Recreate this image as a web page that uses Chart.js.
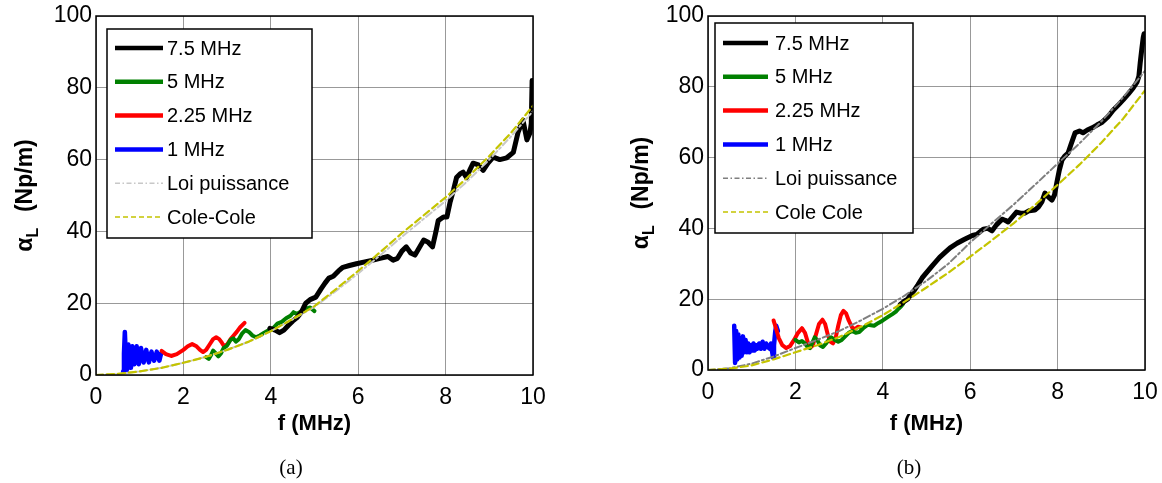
<!DOCTYPE html>
<html>
<head>
<meta charset="utf-8">
<script src="https://cdn.jsdelivr.net/npm/chart.js@4.4.1/dist/chart.umd.min.js"></script>
<style>
    html, body { margin: 0; padding: 0; background: #fff; }
    body { width: 1162px; height: 483px; position: relative; overflow: hidden; }
    .panel { position: absolute; top: 0; height: 483px; }
    #pa { left: 0; width: 560px; }
    #pb { left: 580px; width: 582px; }
</style>
</head>
<body>
<div class="panel" id="pa"><canvas id="chartA"></canvas></div>
<div class="panel" id="pb"><canvas id="chartB"></canvas></div>
<script>
// ---- data: [f (MHz), alpha_L (Np/m)] ----

// panel (a)
const blackA = [[3.98,13],[4.1,12.5],[4.2,11.8],[4.3,12.5],[4.4,13.8],[4.5,15],[4.6,16],[4.7,17.5],[4.8,20],[4.9,21],[5.03,21.7],[5.15,24],[5.24,25.6],[5.33,27],[5.43,27.5],[5.55,29],[5.65,30],[5.8,30.5],[5.96,31],[6.15,31.5],[6.34,32],[6.5,32.5],[6.68,33],[6.8,32],[6.9,32.5],[7.0,34.5],[7.1,35.7],[7.2,34],[7.3,33.4],[7.4,35.5],[7.5,37.6],[7.6,37],[7.7,35.7],[7.78,40],[7.83,43],[7.95,44],[8.03,44],[8.1,48],[8.18,51.5],[8.25,55],[8.33,56],[8.4,56.5],[8.48,55],[8.55,57],[8.63,59],[8.75,58.5],[8.86,57],[8.97,59],[9.09,60.7],[9.24,60],[9.4,60.5],[9.55,62],[9.66,67.7],[9.72,69.5],[9.77,71],[9.82,68],[9.86,65.5],[9.93,67.4],[9.96,70],[9.98,82],[9.995,74]];
const greenA = [[2.52,5],[2.58,4.5],[2.63,5.5],[2.68,6.8],[2.74,6],[2.8,5.2],[2.86,6],[2.92,7.5],[3.0,8.2],[3.08,9.8],[3.14,10.2],[3.2,9.3],[3.27,10],[3.34,11.5],[3.42,12.5],[3.5,12],[3.58,11],[3.66,10.5],[3.75,11],[3.85,11.8],[3.95,12.5],[4.05,13],[4.15,14.3],[4.25,14.8],[4.35,15.8],[4.45,16.5],[4.52,17.5],[4.6,17],[4.7,17.8],[4.8,18.5],[4.9,18.8],[5.0,17.8]];
const redA = [[1.5,6.7],[1.6,5.8],[1.72,5.3],[1.85,5.8],[2.0,7],[2.1,8],[2.2,8.6],[2.3,8],[2.38,7],[2.45,6.4],[2.52,7],[2.6,8.5],[2.68,10],[2.75,10.5],[2.82,10],[2.88,9],[2.93,8],[3.0,8.5],[3.08,10],[3.15,11],[3.22,12],[3.3,13.3],[3.4,14.5]];
const blueA = [[0.62,1],[0.64,6],[0.66,12],[0.68,6],[0.70,1],[0.72,5],[0.74,8.5],[0.76,5],[0.78,2],[0.80,5],[0.83,8],[0.855,5],[0.88,3],[0.905,5.5],[0.93,8],[0.955,5.5],[0.98,3],[1.005,5],[1.03,7.5],[1.06,5.5],[1.09,3.5],[1.12,5],[1.15,7],[1.18,5],[1.21,3.5],[1.24,5],[1.27,6.5],[1.30,5],[1.33,4],[1.36,5],[1.39,6.5],[1.42,5.5],[1.45,4],[1.47,5],[1.49,6]];

// panel (b)
const blackB = [[4.4,18.5],[4.5,19.5],[4.57,20],[4.65,21.5],[4.72,22.5],[4.8,24],[4.9,26],[5.0,27.5],[5.15,29.7],[5.3,31.8],[5.45,33.5],[5.54,34.5],[5.7,35.8],[5.85,36.8],[5.93,37.3],[6.05,38],[6.15,38.3],[6.3,39.8],[6.4,40],[6.5,39.3],[6.6,41],[6.73,42.6],[6.8,42.3],[6.87,41.8],[6.95,43],[7.06,44.6],[7.15,44.3],[7.25,44.3],[7.35,45],[7.48,45.2],[7.56,46],[7.64,47.5],[7.71,50],[7.78,49],[7.87,48],[7.93,49.5],[7.98,52.8],[8.04,56.5],[8.1,59.3],[8.17,60.5],[8.24,61.3],[8.3,63.5],[8.4,67],[8.5,67.5],[8.58,67],[8.68,67.8],[8.79,68.4],[8.9,69.2],[9.02,70],[9.15,71.5],[9.27,73.4],[9.4,75],[9.5,76.3],[9.62,78],[9.73,79.7],[9.82,81.4],[9.86,83],[9.89,86.7],[9.93,91],[9.96,94],[9.98,95]];
const greenB = [[2.0,8.5],[2.08,7.8],[2.15,8.2],[2.21,7.6],[2.28,6.5],[2.33,6.2],[2.38,7.5],[2.44,9.2],[2.5,8.5],[2.56,7],[2.63,6.5],[2.7,7.5],[2.76,8.5],[2.82,9.2],[2.9,8.5],[2.98,8],[3.06,8.5],[3.14,9.5],[3.22,10.5],[3.3,11],[3.38,10.5],[3.46,10.7],[3.55,11.8],[3.66,12.8],[3.8,12.5],[3.9,13.3],[4.0,14],[4.12,15],[4.22,15.8],[4.3,16.5],[4.36,17.3],[4.42,18],[4.47,18.8]];
const redB = [[1.5,14],[1.55,12],[1.62,9],[1.7,7],[1.79,6.2],[1.88,6.8],[1.97,8.5],[2.06,10.5],[2.15,11.8],[2.22,10.5],[2.28,8],[2.34,6.3],[2.4,7],[2.47,10],[2.54,13],[2.62,14.2],[2.68,13],[2.74,10],[2.8,8],[2.86,7.5],[2.92,9],[2.98,12.5],[3.04,15.5],[3.1,16.7],[3.16,16],[3.22,14],[3.3,12],[3.36,11.5],[3.43,12.2],[3.5,12]];
const blueB = [[0.6,12.5],[0.62,2],[0.645,11],[0.67,3],[0.695,10],[0.72,3.5],[0.745,9],[0.77,4],[0.8,9.5],[0.83,5],[0.86,8.5],[0.89,5],[0.92,7.5],[0.95,5],[0.98,7],[1.01,5.5],[1.04,7.5],[1.07,5.5],[1.1,7],[1.13,6],[1.17,7.5],[1.21,6],[1.25,8],[1.29,6],[1.33,7.5],[1.37,6.5],[1.41,6],[1.44,7.5],[1.47,5],[1.49,3.5],[1.51,7],[1.54,11],[1.56,12.5],[1.6,11]];

// fitted models, sampled every 0.5 MHz
const fitFreq = [0,0.5,1,1.5,2,2.5,3,3.5,4,4.5,5,5.5,6,6.5,7,7.5,8,8.5,9,9.5,10];
const loiA  = [0,0.3,1.0,2.0,3.4,5.0,7.0,9.3,12.2,15.5,19,23.5,28.3,33.3,38.5,43.5,48.5,54,60,66.5,73.5];
const coleA = [0,0.3,1.0,2.0,3.4,5.0,7.0,9.3,12.2,15.6,19.2,24,29,34.2,39.5,44.5,49.5,55,61,67.5,75];
const loiB  = [0,0.5,1.8,3.8,6.2,8.5,11,14,17.3,21,25.2,30,36,41.5,46.8,52.5,58.3,64,70.2,77,84.5];
const coleB = [0,0.4,1.3,3.0,5.0,7.0,9.3,12.2,15.5,19.3,23.3,27.5,32,36.7,41.5,46.8,52.3,58,64.2,71,79];

const xTicks = [0, 2, 4, 6, 8, 10];
const yTicks = [0, 20, 40, 60, 80, 100];

const SANS = '"Liberation Sans", Arial, sans-serif';
const SERIF = '"Liberation Serif", "Times New Roman", serif';

const toPts = arr => arr.map(p => ({ x: p[0], y: p[1] }));
const fitPts = vals => fitFreq.map((f, i) => ({ x: f, y: vals[i] }));

function buildDatasets(black, green, red, blue, loi, cole, loiColor, coleLabel) {
    return [
        { label: '7.5 MHz', data: toPts(black), borderColor: '#000000', borderWidth: 5, order: 2 },
        { label: '5 MHz', data: toPts(green), borderColor: '#008000', borderWidth: 4, order: 3 },
        { label: '2.25 MHz', data: toPts(red), borderColor: '#ff0000', borderWidth: 4, order: 4 },
        { label: '1 MHz', data: toPts(blue), borderColor: '#0000ff', borderWidth: 4.5, order: 5 },
        { label: 'Loi puissance', data: fitPts(loi), borderColor: loiColor, borderWidth: 2, borderDash: [7, 3, 2, 3], order: 1 },
        { label: coleLabel, data: fitPts(cole), borderColor: '#c4c400', borderWidth: 2.2, borderDash: [7, 4], order: 0 }
    ];
}

// frame, legend box, axis titles and caption (MATLAB look)
const decorPlugin = {
    id: 'decor',
    afterDraw(chart, args, o) {
        const ctx = chart.ctx;
        const a = chart.chartArea;
        ctx.save();

        // axes box
        ctx.strokeStyle = '#000';
        ctx.lineWidth = 1.5;
        ctx.setLineDash([]);
        ctx.strokeRect(a.left, a.top, a.right - a.left, a.bottom - a.top);

        // legend
        const L = o.legend;
        ctx.fillStyle = '#fff';
        ctx.fillRect(L.x, L.y, L.w, L.h);
        ctx.strokeRect(L.x, L.y, L.w, L.h);
        ctx.font = '20px ' + SANS;
        ctx.textAlign = 'left';
        ctx.textBaseline = 'middle';
        chart.data.datasets.forEach((ds, i) => {
            const yy = L.row0 + i * L.step;
            ctx.beginPath();
            ctx.strokeStyle = ds.borderColor;
            if (!ds.borderDash) {
                ctx.lineWidth = 4.5;
                ctx.setLineDash([]);
            } else {
                ctx.lineWidth = 1.6;
                ctx.setLineDash(ds.borderDash.length === 2 ? [5, 3] : [5, 2.5, 1.5, 2.5]);
            }
            ctx.moveTo(L.lx0, yy);
            ctx.lineTo(L.lx1, yy);
            ctx.stroke();
            ctx.setLineDash([]);
            ctx.fillStyle = '#000';
            ctx.fillText(ds.label, L.tx, yy + 1);
        });

        // x title
        ctx.fillStyle = '#000';
        ctx.font = 'bold 22px ' + SANS;
        ctx.textAlign = 'center';
        ctx.textBaseline = 'middle';
        ctx.fillText('f (MHz)', (a.left + a.right) / 2, o.xTitleY);

        // y title, rotated, with subscript L
        ctx.translate(o.yTitleX, (a.top + a.bottom) / 2);
        ctx.rotate(-Math.PI / 2);
        ctx.textBaseline = 'alphabetic';
        ctx.textAlign = 'left';
        const mainFont = 'bold 23px ' + SANS;
        const subFont = 'bold 16px ' + SANS;
        ctx.font = mainFont;
        const wA = ctx.measureText('\u03b1').width;
        const wR = ctx.measureText('  (Np/m)').width;
        ctx.font = subFont;
        const wL = ctx.measureText('L').width;
        let u = -(wA + wL + wR + 3) / 2;
        ctx.font = mainFont;
        ctx.fillText('\u03b1', u, 0);
        u += wA;
        ctx.font = subFont;
        ctx.fillText('L', u, 6);
        u += wL + 3;
        ctx.font = mainFont;
        ctx.fillText('  (Np/m)', u, 0);
        ctx.setTransform(1, 0, 0, 1, 0, 0);

        // caption
        ctx.font = '21px ' + SERIF;
        ctx.textAlign = 'center';
        ctx.textBaseline = 'middle';
        ctx.fillText(o.caption, o.capX, o.capY);

        ctx.restore();
    }
};

function makeChart(id, datasets, box, decor) {
    return new Chart(document.getElementById(id), {
        type: 'line',
        data: { datasets: datasets },
        options: {
            responsive: true,
            maintainAspectRatio: false,
            animation: false,
            devicePixelRatio: 1,
            layout: { padding: { top: box.top, right: box.right, left: 0, bottom: 0 } },
            elements: {
                point: { radius: 0, hoverRadius: 0 },
                line: { tension: 0, fill: false, borderCapStyle: 'round', borderJoinStyle: 'round' }
            },
            scales: {
                x: {
                    type: 'linear',
                    min: 0,
                    max: 10,
                    afterBuildTicks: s => { s.ticks = xTicks.map(v => ({ value: v })); },
                    afterFit: s => { s.height = box.xh; s.paddingLeft = 0; s.paddingRight = 0; },
                    ticks: { color: '#000', padding: 9, maxRotation: 0, font: { family: SANS, size: 23 } },
                    grid: { color: 'rgba(0,0,0,0.4)', lineWidth: 1, drawTicks: false },
                    border: { display: false }
                },
                y: {
                    type: 'linear',
                    min: 0,
                    max: 100,
                    afterBuildTicks: s => { s.ticks = yTicks.map(v => ({ value: v })); },
                    afterFit: s => { s.width = box.yw; s.paddingTop = 0; s.paddingBottom = 0; },
                    ticks: { color: '#000', padding: 4, font: { family: SANS, size: 23 } },
                    grid: { color: 'rgba(0,0,0,0.4)', lineWidth: 1, drawTicks: false },
                    border: { display: false }
                }
            },
            plugins: {
                legend: { display: false },
                tooltip: { enabled: false },
                decor: decor
            }
        },
        plugins: [decorPlugin]
    });
}

makeChart('chartA',
    buildDatasets(blackA, greenA, redA, blueA, loiA, coleA, '#c8c8c8', 'Cole-Cole'),
    { top: 16, right: 27, yw: 96, xh: 108 },
    {
        legend: { x: 107, y: 29, w: 205, h: 209, row0: 48, step: 33.8, lx0: 115, lx1: 163, tx: 167 },
        xTitleY: 424, yTitleX: 32, caption: '(a)', capX: 291, capY: 468
    });

makeChart('chartB',
    buildDatasets(blackB, greenB, redB, blueB, loiB, coleB, '#7f7f7f', 'Cole Cole'),
    { top: 16, right: 17, yw: 128, xh: 113 },
    {
        legend: { x: 135, y: 23, w: 198, h: 210, row0: 43, step: 33.8, lx0: 143, lx1: 188, tx: 195 },
        xTitleY: 424, yTitleX: 68, caption: '(b)', capX: 329, capY: 468
    });
</script>
</body>
</html>
